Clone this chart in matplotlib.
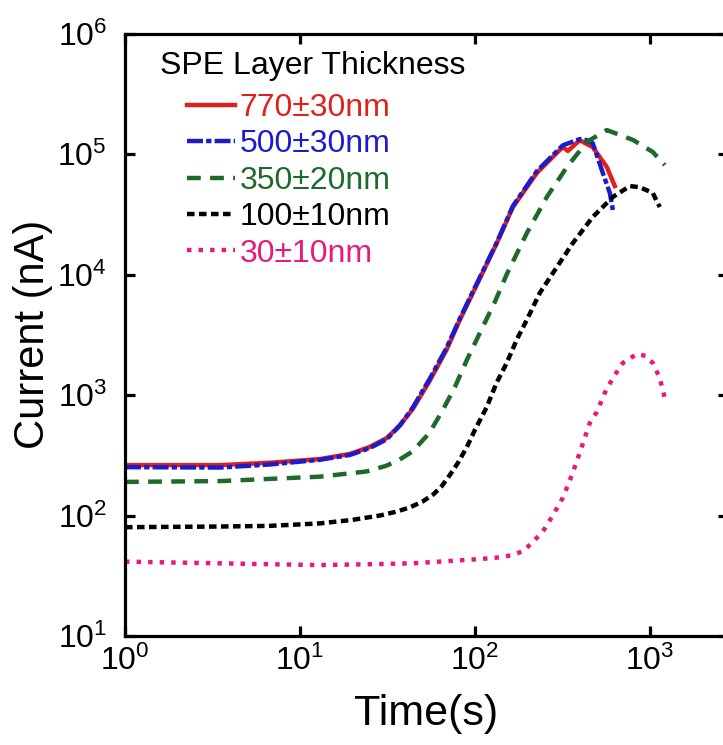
import matplotlib
matplotlib.use("Agg")
import matplotlib.pyplot as plt
from matplotlib.ticker import LogLocator, NullLocator
import numpy as np

plt.rcParams['font.family'] = ['Liberation Sans', 'DejaVu Sans']
plt.rcParams['mathtext.fontset'] = 'custom'
plt.rcParams['mathtext.rm'] = 'Liberation Sans'
plt.rcParams['mathtext.it'] = 'Liberation Sans'
plt.rcParams['mathtext.default'] = 'regular'

# values (time in s, current in nA)
t_770 = [1, 3.5, 6.7, 13, 19.3, 25, 31.4, 37.3, 44, 55, 68.8, 82, 97.4, 133.6, 165, 226, 290, 318, 340, 398, 472, 568, 631]
i_770 = [262, 262, 274, 294, 324, 370, 440, 560, 760, 1300, 2360, 4190, 7020, 18240, 36300, 69500, 100000, 114000, 106000, 130000, 114000, 78000, 54200]

t_500 = [1, 3.5, 6.7, 13, 19.3, 25, 31.4, 37.3, 44, 55, 68.8, 82, 97.4, 133.6, 165, 226, 318, 398, 440, 472, 539, 591, 615]
i_500 = [252, 250, 265, 290, 318, 362, 430, 560, 780, 1350, 2450, 4300, 7200, 18500, 37000, 72000, 118000, 133000, 130000, 123000, 69500, 47500, 34300]

t_350 = [1, 3.5, 13, 24, 31, 37, 44, 55, 65.6, 76.9, 90, 102.6, 117, 130, 152, 198, 258, 336, 437, 568, 800, 1040, 1218]
i_350 = [190, 193, 210, 232, 258, 290, 340, 484, 751, 1165, 1950, 2900, 4300, 5900, 10000, 22000, 44000, 78000, 126000, 158000, 131000, 104000, 81000]

t_100 = [1, 3.5, 6.7, 13, 20, 28.7, 35, 42, 50, 58, 64.6, 72, 80, 90, 100, 117, 133, 152, 174, 198, 235, 294, 363, 472, 615, 769, 877, 1040, 1140]
i_100 = [80, 81, 82, 86, 92, 100, 107, 116, 130, 150, 175, 217, 273, 370, 512, 795, 1260, 1840, 2900, 4190, 7020, 11500, 18200, 30000, 44000, 54200, 53000, 47500, 36300]

t_30 = [1, 3.5, 6.7, 13, 25, 44, 107, 140, 165, 190, 214, 245, 279, 318, 358, 400, 454, 498, 553, 615, 702, 843, 949, 1040, 1140, 1218]
i_30 = [41.4, 40.1, 39.4, 38.8, 39.4, 40.1, 43.5, 45, 47, 51, 60, 74, 100, 140, 215, 340, 586, 723, 1040, 1384, 1845, 2190, 2110, 1845, 1384, 945]

labels = ['770±30nm', '500±30nm', '350±20nm', '100±10nm', '30±10nm']
colors = ['#e0201c', '#1c1ccc', '#1d6b2b', '#000000', '#e8197a']

fig = plt.figure(figsize=(7.23, 7.45), dpi=100)
# right spine sits just past the image edge, as in the original
ax = fig.add_axes([125 / 723, 109 / 745, 603 / 723, 602.5 / 745])

lw = 3.2
ax.plot(t_770, i_770, color=colors[0], lw=lw, linestyle='-', label=labels[0])
ax.plot(t_500, i_500, color=colors[1], lw=lw, linestyle=(0, (3.6, 0.7, 1.2, 0.7)), label=labels[1])
ax.plot(t_350, i_350, color=colors[2], lw=lw, linestyle=(0, (3.1, 2.1)), label=labels[2])
ax.plot(t_100, i_100, color=colors[3], lw=lw, linestyle=(0, (1.7, 1.0)), label=labels[3])
ax.plot(t_30, i_30, color=colors[4], lw=lw, linestyle=(0, (1.0, 1.6)), label=labels[4])

ax.set_xscale('log')
ax.set_yscale('log')
ax.set_xlim(1, 2800)
ax.set_ylim(10, 1e6)
ax.xaxis.set_major_locator(LogLocator(base=10, numticks=10))
ax.yaxis.set_major_locator(LogLocator(base=10, numticks=10))
ax.xaxis.set_minor_locator(NullLocator())
ax.yaxis.set_minor_locator(NullLocator())

for s in ax.spines.values():
    s.set_linewidth(2.3)
ax.tick_params(which='major', direction='in', top=True, right=True,
               length=7, width=2.3, labelsize=23)
ax.tick_params(axis='y', pad=13)
ax.tick_params(axis='x', pad=7)

ax.set_xlabel('Time(s)', fontsize=31, labelpad=12)
ax.set_ylabel('Current (nA)', fontsize=30, labelpad=3)

ax.text(160 / 723, (745 - 66) / 745, 'SPE Layer Thickness', transform=fig.transFigure,
        fontsize=23, ha='left', va='center')
leg = ax.legend(loc='upper left', bbox_to_anchor=(187 / 723, (745 - 93) / 745),
                bbox_transform=fig.transFigure, frameon=False, fontsize=23,
                handlelength=1.5, handletextpad=0.15, labelspacing=0.2,
                borderpad=0, borderaxespad=0)
for txt, c in zip(leg.get_texts(), colors):
    txt.set_color(c)

fig.savefig('out.png', dpi=100)
